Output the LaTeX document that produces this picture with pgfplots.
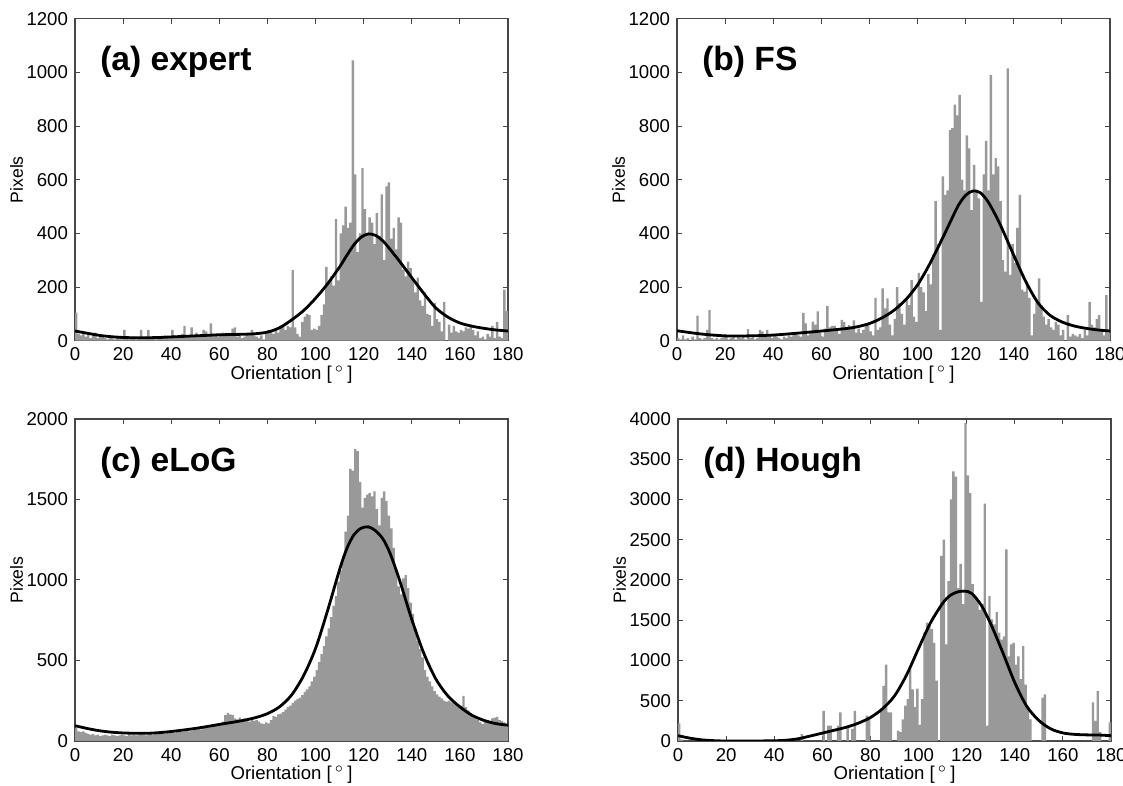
\documentclass[border=0pt]{standalone}
\usepackage{fontspec}
\setmainfont{Liberation Sans}
\usepackage{pgfplots}
\usepackage{pgfplotstable}
\pgfplotsset{compat=1.18}
\definecolor{barg}{RGB}{153,153,153}
\definecolor{axg}{RGB}{70,70,70}

% x = bin start (deg), a..d = pixel counts per 1-degree bin
\pgfplotstableread{
x a b c d
0 105 10 80 220
1 25 5 60 20
2 20 20 55 0
3 30 5 60 0
4 15 10 50 0
5 25 0 45 0
6 10 15 40 0
7 20 5 45 0
8 30 93 35 0
9 10 10 40 0
10 15 5 30 0
11 20 10 35 0
12 10 40 40 0
13 5 114 35 0
14 15 10 30 0
15 10 5 40 0
16 5 10 35 0
17 10 5 30 0
18 15 10 35 0
19 5 15 40 0
20 40 20 35 0
21 10 5 30 0
22 5 10 40 0
23 10 15 35 0
24 15 5 40 0
25 5 20 35 0
26 10 10 40 0
27 40 15 45 0
28 10 5 40 0
29 15 43 35 0
30 40 10 40 0
31 10 15 45 0
32 15 5 40 0
33 5 10 45 0
34 10 40 50 0
35 15 35 45 0
36 10 15 50 0
37 20 40 45 0
38 10 20 50 0
39 15 10 55 0
40 40 25 55 0
41 20 15 50 0
42 15 10 55 0
43 10 5 60 0
44 25 15 55 0
45 55 10 60 0
46 20 20 65 0
47 15 15 60 0
48 50 25 65 0
49 20 30 70 0
50 30 20 70 0
51 15 15 75 85
52 20 104 70 0
53 40 65 80 0
54 35 20 85 0
55 20 35 80 0
56 65 71 90 0
57 25 60 95 0
58 20 109 100 0
59 15 30 105 0
60 25 15 110 375
61 30 45 120 0
62 20 130 160 190
63 25 50 175 190
64 20 55 165 0
65 45 55 160 0
66 50 40 140 190
67 15 25 135 355
68 20 78 145 0
69 10 70 130 0
70 15 40 140 170
71 20 58 125 0
72 25 45 120 150
73 40 76 130 375
74 20 30 125 0
75 15 45 130 0
76 10 28 120 0
77 20 40 110 0
78 5 55 105 315
79 25 60 115 295
80 40 35 110 0
81 35 20 130 0
82 25 160 155 0
83 45 40 150 0
84 30 50 165 400
85 55 195 170 685
86 60 120 180 950
87 40 158 195 355
88 55 60 210 355
89 50 20 220 0
90 263 80 235 0
91 50 200 250 130
92 25 140 260 110
93 15 100 270 270
94 70 60 285 440
95 90 150 305 520
96 100 133 320 890
97 95 226 340 640
98 40 90 370 420
99 45 70 400 650
100 40 253 440 200
101 55 200 490 520
102 95 180 540 1350
103 135 110 590 1470
104 275 248 650 1430
105 220 210 700 1390
106 240 320 770 1220
107 205 520 840 750
108 453 360 900 0
109 225 40 990 2300
110 400 612 1060 2500
111 430 543 1150 1200
112 500 560 1300 1985
113 420 785 1400 3000
114 440 792 1690 3350
115 1045 880 1680 3285
116 620 840 1815 1900
117 330 916 1800 2200
118 400 600 1610 1700
119 643 560 1450 3950
120 490 765 1510 3300
121 400 717 1530 3080
122 460 487 1540 1950
123 440 655 1520 1800
124 360 560 1550 1750
125 475 530 1440 1630
126 390 145 1340 1700
127 545 620 1510 2950
128 300 745 1550 190
129 575 560 1490 1800
130 590 990 1400 1510
131 380 620 1320 1450
132 420 680 1200 1600
133 340 650 1060 1345
134 460 520 960 1260
135 440 300 910 1300
136 265 257 1010 2380
137 240 1015 1030 1050
138 295 245 950 1200
139 270 360 860 1220
140 230 290 790 950
141 180 420 700 1050
142 235 543 620 770
143 150 190 570 1180
144 130 183 520 700
145 180 220 440 400
146 100 160 400 270
147 95 20 370 0
148 55 100 340 0
149 140 150 310 0
150 80 232 290 0
151 70 133 275 540
152 35 90 265 580
153 145 60 250 0
154 0 80 245 0
155 60 50 250 0
156 30 40 240 0
157 55 70 240 0
158 35 60 230 0
159 30 20 225 0
160 40 40 220 0
161 35 0 280 0
162 50 95 210 0
163 45 15 190 0
164 60 25 175 0
165 40 20 160 0
166 20 15 140 0
167 35 25 130 0
168 10 10 115 0
169 15 40 105 0
170 5 20 125 0
171 25 145 130 0
172 15 60 120 480
173 55 50 140 250
174 10 80 145 620
175 70 95 150 110
176 15 40 130 0
177 10 20 125 0
178 190 170 115 0
179 110 30 90 230
180 110 30 90 230
}\histdata

\pgfplotsset{
  hist/.style={
    scale only axis, width=216.5pt, height=161pt,
    xmin=0, xmax=180, ymin=0,
    xtick={0,20,...,180},
    tick align=inside, tick pos=both,
    major tick length=2.5pt,
    axis line style={axg, line width=0.6pt},
    every tick/.style={axg, line width=0.5pt},
    /pgf/number format/assume math mode=true,
    /pgf/number format/1000 sep={},
    scaled y ticks=false,
    ticklabel style={font=\fontsize{9.3}{10}\selectfont},
    xlabel={Orientation [\,$^{\circ}$\,]},
    ylabel={Pixels},
    xlabel style={font=\fontsize{9.3}{10}\selectfont, at={(axis description cs:0.5,-0.105)}, anchor=center},
    ylabel style={font=\fontsize{8.8}{9}\selectfont, at={(axis description cs:-0.135,0.5)}, anchor=center},
    anchor=south west,
  },
  bars/.style={const plot, fill=barg, draw=none},
  fit/.style={smooth, black, line width=1.4pt},
}
\tikzset{ttl/.style={anchor=west, font=\bfseries\fontsize{16.8}{18}\selectfont}}

\begin{document}
\begin{tikzpicture}
\useasboundingbox (0,0) rectangle (561.5pt,393pt);

% (a)
\begin{axis}[hist, at={(37.5pt,222.65pt)}, ymax=1200, ytick={0,200,...,1200}]
\addplot[bars] table[x=x,y=a]{\histdata} \closedcycle;
\addplot[fit] coordinates {(0,36)(5,28)(10,20)(15,15)(20,12)(25,11)(30,11)(35,12)(40,14)(45,16)(50,18)(55,20)(60,22)(65,23)(70,24)(75,26)(80,32)(85,48)(90,77)(95,112)(100,158)(105,212)(110,275)(113,318)(116,358)(119,386)(122,398)(125,392)(128,372)(131,340)(135,295)(140,235)(145,176)(150,122)(155,88)(160,66)(165,54)(170,46)(175,40)(180,36)};
\node[ttl] at (rel axis cs:0.042,0.865) {(a) expert};
\end{axis}

% (b)
\begin{axis}[hist, at={(338.5pt,222.65pt)}, ymax=1200, ytick={0,200,...,1200}]
\addplot[bars] table[x=x,y=b]{\histdata} \closedcycle;
\addplot[fit] coordinates {(0,37)(10,25)(20,18)(30,18)(40,21)(50,28)(60,36)(70,45)(75,52)(80,64)(85,84)(90,112)(95,152)(100,208)(105,285)(110,375)(114,450)(117,505)(120,542)(123,558)(126,552)(129,522)(132,475)(135,420)(140,318)(145,220)(150,142)(155,95)(160,70)(165,55)(170,46)(175,40)(180,36)};
\node[ttl] at (rel axis cs:0.042,0.865) {(b) FS};
\end{axis}

% (c)
\begin{axis}[hist, at={(37.5pt,22.5pt)}, ymax=2000, ytick={0,500,...,2000}]
\addplot[bars] table[x=x,y=c]{\histdata} \closedcycle;
\addplot[fit] coordinates {(0,95)(5,78)(10,64)(15,55)(20,50)(25,48)(30,48)(35,52)(40,59)(45,68)(50,78)(55,90)(60,103)(65,115)(70,128)(75,145)(80,170)(85,212)(90,285)(95,405)(100,575)(105,810)(110,1065)(113,1195)(116,1282)(119,1322)(122,1330)(125,1305)(128,1255)(131,1165)(135,995)(140,755)(145,545)(150,385)(155,280)(160,212)(165,160)(170,128)(175,108)(180,98)};
\node[ttl] at (rel axis cs:0.042,0.865) {(c) eLoG};
\end{axis}

% (d)
\begin{axis}[hist, at={(339pt,22.5pt)}, ymax=4000, ytick={0,500,...,4000}]
\addplot[bars] table[x=x,y=d]{\histdata} \closedcycle;
\addplot[fit] coordinates {(0,66)(5,35)(10,14)(15,4)(20,0)(30,0)(40,3)(45,10)(50,28)(55,62)(60,98)(65,134)(70,172)(75,222)(80,292)(85,400)(90,560)(95,820)(100,1150)(105,1470)(110,1710)(113,1805)(116,1850)(119,1862)(122,1835)(126,1690)(130,1455)(135,1100)(140,725)(145,430)(150,255)(155,150)(160,100)(165,82)(170,76)(175,74)(180,66)};
\node[ttl] at (rel axis cs:0.042,0.865) {(d) Hough};
\end{axis}
\end{tikzpicture}
\end{document}
